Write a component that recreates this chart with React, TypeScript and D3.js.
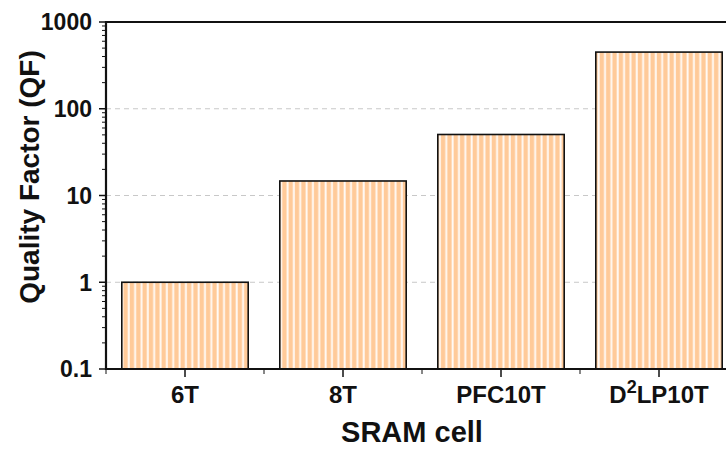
import React from "react";
import * as d3 from "d3";

const categories = ["6T", "8T", "PFC10T", "D2LP10T"];
const values = [1, 14.7, 50.5, 450];
const yTickValues = [0.1, 1, 10, 100, 1000];
const yTickLabels = ["0.1", "1", "10", "100", "1000"];
const gridValues = [1, 10, 100];

const W = 726;
const H = 449;
const left = 106;
const top = 22;
const bottom = 369;
const right = 738;

export default function App() {
  const x = d3.scaleBand<string>().domain(categories).range([left, right]).paddingInner(0.2).paddingOuter(0.1);
  const y = d3.scaleLog().domain([0.1, 1000]).range([bottom, top]);
  const step = x.step();
  const font = "'Liberation Sans', Arial, sans-serif";

  const minorY: number[] = [];
  for (let e = -1; e < 3; e++) {
    for (let m = 2; m <= 9; m++) minorY.push(m * Math.pow(10, e));
  }
  const minorX = categories.map((c) => (x(c) as number) - step * 0.1);

  return (
    <svg width={W} height={H} style={{ position: "absolute", left: 0, top: 0 }}>
      <defs>
        <pattern id="stripes" patternUnits="userSpaceOnUse" width={6.35} height={10} x={121.8}>
          <rect x={0} y={0} width={6.35} height={10} fill="#fffaf5" />
          <rect x={1.6} y={0} width={4.4} height={10} fill="#ffca99" />
        </pattern>
      </defs>
      <rect x={0} y={0} width={W} height={H} fill="#fff" />
      {gridValues.map((v) => (
        <line key={v} x1={left} x2={W} y1={y(v)} y2={y(v)} stroke="#c8c8c8" strokeWidth={1} strokeDasharray="5,4" />
      ))}
      {categories.map((c, i) => (
        <rect
          key={c}
          x={x(c)}
          y={y(values[i])}
          width={x.bandwidth()}
          height={bottom - y(values[i])}
          fill="url(#stripes)"
          stroke="#111"
          strokeWidth={1.6}
        />
      ))}
      {/* frame */}
      <line x1={left} x2={W} y1={top} y2={top} stroke="#111" strokeWidth={2.2} />
      <line x1={left} x2={left} y1={top - 1} y2={bottom + 1} stroke="#111" strokeWidth={2.2} />
      <line x1={left - 1} x2={W} y1={bottom} y2={bottom} stroke="#111" strokeWidth={2.2} />
      {/* y ticks */}
      {yTickValues.map((v, i) => (
        <g key={v}>
          <line x1={left - 7} x2={left} y1={y(v)} y2={y(v)} stroke="#111" strokeWidth={1.5} />
          <text
            x={left - 14}
            y={y(v)}
            dy="0.36em"
            textAnchor="end"
            fontFamily={font}
            fontWeight="bold"
            fontSize={23}
            fill="#111"
          >
            {yTickLabels[i]}
          </text>
        </g>
      ))}
      {minorY.map((v) => (
        <line key={v} x1={left - 4} x2={left} y1={y(v)} y2={y(v)} stroke="#111" strokeWidth={1} />
      ))}
      {/* x ticks */}
      {categories.map((c, i) => {
        const cx = (x(c) as number) + x.bandwidth() / 2;
        return (
          <g key={c}>
            <line x1={cx} x2={cx} y1={bottom} y2={bottom + 8} stroke="#111" strokeWidth={1.5} />
            <text x={cx} y={bottom + 34} textAnchor="middle" fontFamily={font} fontWeight="bold" fontSize={24} fill="#111">
              {c === "D2LP10T" ? (
                <>
                  D<tspan dy={-10} fontSize={18}>2</tspan>
                  <tspan dy={10}>LP10T</tspan>
                </>
              ) : (
                c
              )}
            </text>
          </g>
        );
      })}
      {minorX.map((mx, i) => (
        <line key={i} x1={mx} x2={mx} y1={bottom} y2={bottom + 5} stroke="#111" strokeWidth={1} />
      ))}
      {/* axis titles */}
      <text x={412} y={442} textAnchor="middle" fontFamily={font} fontWeight="bold" fontSize={29} fill="#111">
        SRAM cell
      </text>
      <text
        transform={`translate(39,177) rotate(-90)`}
        textAnchor="middle"
        fontFamily={font}
        fontWeight="bold"
        fontSize={28}
        fill="#111"
      >
        Quality Factor (QF)
      </text>
    </svg>
  );
}
